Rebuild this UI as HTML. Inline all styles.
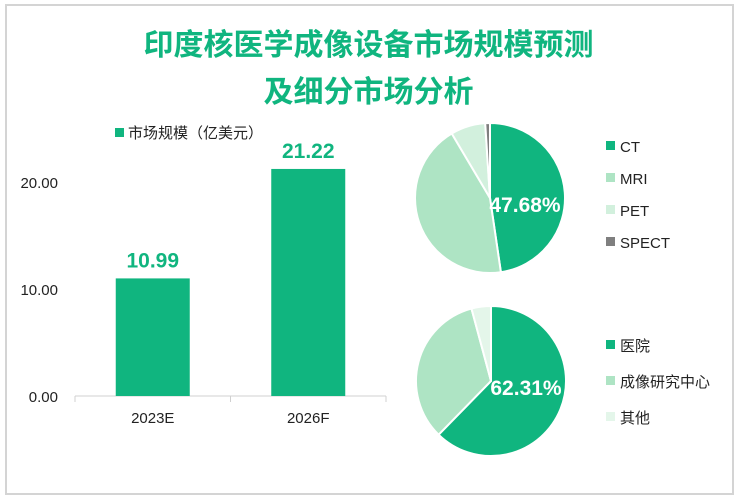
<!DOCTYPE html>
<html><head><meta charset="utf-8"><style>
body{margin:0;background:#fff;}
#wrap{position:relative;width:737px;height:497px;overflow:hidden;font-family:"Liberation Sans","Noto Sans CJK SC",sans-serif;}
#frame{position:absolute;left:5px;top:4px;width:725px;height:487px;border:2px solid #d4d4d4;}
.title{position:absolute;left:0;width:737px;text-align:center;color:#10b57f;font-weight:bold;font-size:30px;}
</style></head><body>
<div id="wrap">
<div id="frame"></div>
<div class="title" style="top:20px">印度核医学成像设备市场规模预测</div>
<div class="title" style="top:67px">及细分市场分析</div>
<svg id="svg" width="737" height="497" style="position:absolute;left:0;top:0"></svg>
</div>
<script>
const categories=["2023E","2026F"];
const barValues=[10.99,21.22];
const yTicks=[0,10,20];
const yTickLabels=["0.00","10.00","20.00"];
const pie1Labels=["CT","MRI","PET","SPECT"];
const pie1Values=[47.68,43.8,7.5,1.02];
const pie2Labels=["医院","成像研究中心","其他"];
const pie2Values=[62.31,33.5,4.19];
const green="#10b57f";
const ns="http://www.w3.org/2000/svg";
const svg=document.getElementById("svg");
function mk(t,a,p){const e=document.createElementNS(ns,t);for(const k in a)e.setAttribute(k,a[k]);(p||svg).appendChild(e);return e;}
const base=396,unit=10.7;
const y=v=>base-v*unit;
const x0=75,x1=386,bw=74;
const bandW=(x1-x0)/categories.length;
const xc=i=>x0+bandW*(i+0.5);
yTicks.forEach((t,i)=>{const e=mk("text",{x:58,y:y(t)+6,"text-anchor":"end","font-size":"15",fill:"#222"});e.textContent=yTickLabels[i];

});
const ax=mk("line",{x1:x0,x2:x1,y1:base,y2:base,stroke:"#d0d0d0","stroke-width":1});


for(let i=0;i<=categories.length;i++){const tk=mk("line",{x1:x0+bandW*i,x2:x0+bandW*i,y1:base,y2:base+6,stroke:"#d0d0d0"});

}
categories.forEach((c,i)=>{
const r=mk("rect",{x:xc(i)-bw/2,y:y(barValues[i]),width:bw,height:barValues[i]*unit,fill:green});


const l=mk("text",{x:xc(i),y:y(barValues[i])-11,"text-anchor":"middle","font-size":"21","font-weight":"bold",fill:green});
l.textContent=barValues[i].toFixed(2);


const t=mk("text",{x:xc(i),y:base+27,"text-anchor":"middle","font-size":"15",fill:"#222"});
t.textContent=c;


});
const lg=mk("rect",{x:115,y:128,width:9,height:9,fill:green});


const lt=mk("text",{x:128,y:138,"font-size":"15",fill:"#222"});
lt.textContent="市场规模（亿美元）";


function pie(cx,cy,r,vals,labels,colors,legX,legY,legGap,name){
const tot=vals.reduce((a,b)=>a+b,0);let a=0;
vals.forEach((v,i)=>{const a0=a/tot*2*Math.PI,a1=(a+v)/tot*2*Math.PI;a+=v;
const p=(an)=>[cx+r*Math.sin(an),cy-r*Math.cos(an)];
const [sx,sy]=p(a0),[ex,ey]=p(a1);
const s=mk("path",{d:`M${cx},${cy}L${sx},${sy}A${r},${r} 0 ${a1-a0>Math.PI?1:0} 1 ${ex},${ey}Z`,fill:colors[i],stroke:"#fff","stroke-width":2});


const sw=mk("rect",{x:legX,y:legY+i*legGap-5,width:9,height:9,fill:colors[i]});


const t=mk("text",{x:legX+14,y:legY+i*legGap+6,"font-size":"15",fill:"#222"});t.textContent=labels[i];


});
const pl=mk("text",{x:cx+35,y:cy+14,"text-anchor":"middle","font-size":"21","font-weight":"bold",fill:"#fff"});
pl.textContent=vals[0].toFixed(2)+"%";


}
pie(490,198,75,pie1Values,pie1Labels,[green,"#aee4c4","#d2f0dd","#7f7f7f"],606,146,32,"pie-modality");
pie(491,381,75,pie2Values,pie2Labels,[green,"#aee4c4","#e4f6ea"],606,345,36,"pie-enduser");
</script>
</body></html>
